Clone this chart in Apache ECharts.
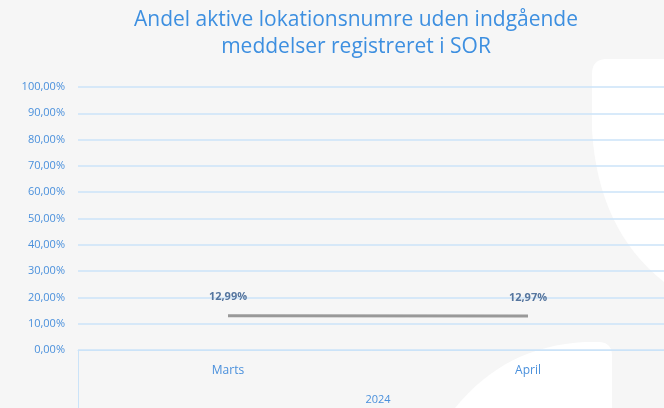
<!DOCTYPE html>
<html style="height: 100%">
<head>
<meta charset="utf-8">
<script src="https://cdn.jsdelivr.net/npm/echarts@6/dist/echarts.min.js"></script>
</head>
<body style="height: 100%; margin: 0; background: #f6f6f6">
<div id="container" style="width: 664px; height: 408px;"></div>
<script type="text/javascript">
// data
var months = ['Marts', 'April'];
var years = ['2024'];
var andel = [0.1299, 0.1297];

var blue = '#4a90dc';
var gridBlue = '#cbe3f8';

function pct(v) {
    return (v * 100).toFixed(2).replace('.', ',') + '%';
}

// background decoration: points along quadratic curves
function quad(p0, c, p1) {
    var pts = [];
    for (var i = 0; i <= 16; i++) {
        var t = i / 16;
        pts.push([
            (1 - t) * (1 - t) * p0[0] + 2 * (1 - t) * t * c[0] + t * t * p1[0],
            (1 - t) * (1 - t) * p0[1] + 2 * (1 - t) * t * c[1] + t * t * p1[1]
        ]);
    }
    return pts;
}
var shapeTop = [].concat(
    quad([592, 74], [592, 59], [607, 59]),
    [[664, 59], [664, 282]],
    quad([664, 282], [598, 230], [592, 130])
);
var shapeBottom = [].concat(
    quad([455, 408], [505, 346], [585, 342]),
    quad([598, 342], [612, 342], [612, 356]),
    [[612, 408]]
);

var dom = document.getElementById('container');
var myChart = echarts.init(dom);

var option = {
    backgroundColor: '#f6f6f6',
    textStyle: { fontFamily: 'Open Sans' },
    title: {
        text: 'Andel aktive lokationsnumre uden indgående\nmeddelser registreret i SOR',
        left: 351,
        top: 2,
        textAlign: 'center',
        textStyle: {
            color: '#3d8fe0',
            fontSize: 21,
            fontWeight: 'normal',
            lineHeight: 27
        }
    },
    graphic: [{
        type: 'polygon',
        z: -10,
        silent: true,
        shape: { points: shapeTop },
        style: { fill: '#ffffff' }
    }, {
        type: 'polygon',
        z: -10,
        silent: true,
        shape: { points: shapeBottom },
        style: { fill: '#ffffff' }
    }],
    grid: {
        left: 78,
        top: 87,
        width: 600,
        height: 263,
        outerBoundsMode: 'none'
    },
    xAxis: [{
        type: 'category',
        data: months,
        axisLine: { lineStyle: { color: gridBlue } },
        axisTick: { show: false },
        axisLabel: { color: blue, fontSize: 12, margin: 15 }
    }, {
        type: 'category',
        data: years,
        position: 'bottom',
        axisLine: { show: false },
        axisTick: { show: true, length: 60, lineStyle: { color: gridBlue } },
        axisLabel: { color: blue, fontSize: 11, margin: 44 }
    }],
    yAxis: {
        type: 'value',
        min: 0,
        max: 1,
        interval: 0.1,
        axisLine: { show: false },
        axisTick: { show: false },
        axisLabel: { color: blue, fontSize: 11, margin: 13, formatter: pct },
        splitLine: { lineStyle: { color: gridBlue, width: 1.5 } }
    },
    series: [{
        type: 'line',
        data: andel,
        symbol: 'circle',
        symbolSize: 0,
        showSymbol: true,
        lineStyle: { color: '#999999', width: 3 },
        itemStyle: { color: '#999999' },
        label: {
            show: true,
            position: 'top',
            distance: 13,
            color: '#56769f',
            fontSize: 11,
            fontWeight: 'bold',
            formatter: function (p) { return pct(p.value); }
        }
    }]
};

myChart.setOption(option);
</script>
</body>
</html>
